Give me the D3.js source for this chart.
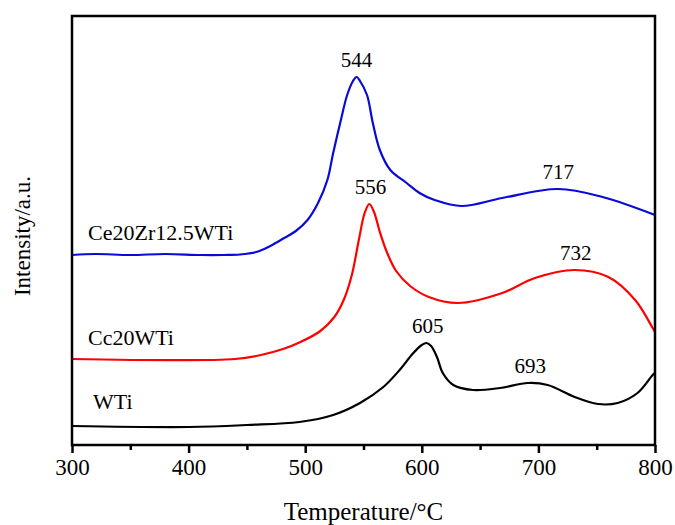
<!DOCTYPE html>
<html>
<head>
<meta charset="utf-8">
<script src="https://cdn.jsdelivr.net/npm/d3@7"></script>
<style>
  body { margin: 0; background: #fff; }
  text { font-family: "Liberation Serif", "Times New Roman", serif; fill: #000; }
</style>
</head>
<body>
<div id="chart"></div>
<script>
// Temperature (°C) and intensity (a.u.)
const ceZrTemp = [300, 320, 350, 380, 410, 430, 444, 458, 470, 482, 492, 502, 511, 519, 524, 530, 536, 541, 544, 547, 553, 558, 564, 573, 587, 598, 611, 634, 669, 717, 755, 800];
const ceZrVal  = [190, 191, 190, 191, 190, 190, 190.5, 193, 199, 207, 214, 225, 242, 265, 292, 322, 350, 364, 368, 364, 350, 322, 295, 275, 262, 252, 245, 239, 247, 256, 248, 230];

const ceTemp = [300, 440, 462, 481, 496, 513, 525, 533, 540, 546, 551, 555, 559, 564, 570, 578, 590, 606, 631, 669, 697, 731, 760, 783, 798, 800];
const ceVal  = [86, 86, 90, 96, 103, 114, 128, 145, 170, 205, 232, 241, 233, 213, 193, 174, 159, 148, 142, 152, 167, 175, 168, 145, 117, 113];

const wtiTemp = [300, 400, 450, 495, 524, 547, 567, 581, 592, 600, 604, 608, 613, 618, 627, 644, 667, 691, 708, 731, 751, 768, 785, 798, 800];
const wtiVal  = [19, 18, 20, 23, 30, 42, 58, 75, 91, 100, 102, 99, 88, 72, 60, 55, 57, 62, 60, 48, 41, 42, 52, 70, 72];

const seriesNames = ["Ce20Zr12.5WTi", "Cc20WTi", "WTi"];
const seriesColors = ["#0a0ad8", "#ff0000", "#000000"];

// peak annotations: temperature label and the intensity it sits above
const peakTemps = [544, 717, 556, 732, 605, 693];
const peakVals  = [368, 256, 241, 175, 102, 62];

const majorTicks = [300, 400, 500, 600, 700, 800];
const minorTicks = [350, 450, 550, 650, 750];

const width = 675, height = 525;
const margin = { top: 16, right: 20, bottom: 80, left: 72 };

const svg = d3.select("#chart").append("svg")
    .attr("width", width)
    .attr("height", height);

const x = d3.scaleLinear()
    .domain([300, 800])
    .range([margin.left, width - margin.right]);

const y = d3.scaleLinear()
    .domain([0, 429])
    .range([height - margin.bottom, margin.top]);

// curves
const line = d3.line()
    .x(d => x(d[0]))
    .y(d => y(d[1]))
    .curve(d3.curveCatmullRom.alpha(0.5));

const series = [
    d3.zip(ceZrTemp, ceZrVal),
    d3.zip(ceTemp, ceVal),
    d3.zip(wtiTemp, wtiVal)
];

svg.selectAll(".curve")
    .data(series)
    .join("path")
    .attr("class", "curve")
    .attr("fill", "none")
    .attr("stroke", (d, i) => seriesColors[i])
    .attr("stroke-width", 2.2)
    .attr("stroke-linejoin", "round")
    .attr("d", line);

// x axis, major and minor ticks
const xAxis = svg.append("g")
    .attr("transform", `translate(0,${y(0)})`)
    .call(d3.axisBottom(x).tickValues(majorTicks).tickSize(8).tickSizeOuter(0).tickPadding(6));
xAxis.select(".domain").remove();
xAxis.selectAll("line").attr("stroke-width", 2.5);
xAxis.selectAll("text")
    .style("font-family", "'Liberation Serif', 'Times New Roman', serif")
    .style("font-size", "23px");

const xMinor = svg.append("g")
    .attr("transform", `translate(0,${y(0)})`)
    .call(d3.axisBottom(x).tickValues(minorTicks).tickSize(5).tickFormat(""));
xMinor.select(".domain").remove();
xMinor.selectAll("line").attr("stroke-width", 2.5);

// frame
svg.append("rect")
    .attr("x", x(300))
    .attr("y", y(429))
    .attr("width", x(800) - x(300))
    .attr("height", y(0) - y(429))
    .attr("fill", "none")
    .attr("stroke", "#000")
    .attr("stroke-width", 2.5);

// axis titles
svg.append("text")
    .attr("x", (x(300) + x(800)) / 2)
    .attr("y", 520)
    .attr("text-anchor", "middle")
    .style("font-size", "25px")
    .text("Temperature/°C");

svg.append("text")
    .attr("transform", "translate(30,236) rotate(-90)")
    .attr("text-anchor", "middle")
    .style("font-size", "23px")
    .text("Intensity/a.u.");

// series labels
const labelPos = [[88, 240], [88, 345], [93, 409]];
svg.selectAll(".series-label")
    .data(seriesNames)
    .join("text")
    .attr("class", "series-label")
    .attr("x", (d, i) => labelPos[i][0])
    .attr("y", (d, i) => labelPos[i][1])
    .style("font-size", "22px")
    .text(d => d);

// peak labels
svg.selectAll(".peak")
    .data(peakTemps)
    .join("text")
    .attr("class", "peak")
    .attr("x", d => x(d))
    .attr("y", (d, i) => y(peakVals[i]) - 10)
    .attr("text-anchor", "middle")
    .style("font-size", "21px")
    .text(d => d);
</script>
</body>
</html>
